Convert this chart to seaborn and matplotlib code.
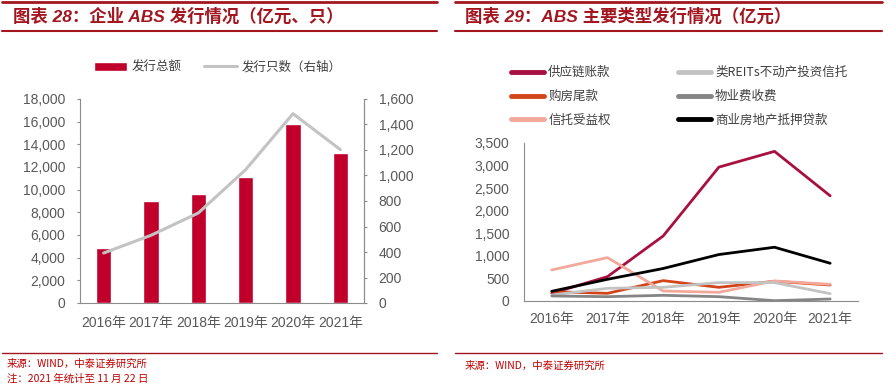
import numpy as np
import pandas as pd
import seaborn as sns
import matplotlib
matplotlib.use('Agg')
from matplotlib import pyplot as plt
from matplotlib.lines import Line2D
from matplotlib.ticker import FuncFormatter, FixedLocator

# --------------------------
# 数据
# --------------------------
years = ['2016年', '2017年', '2018年', '2019年', '2020年', '2021年']

# 图表 28：企业 ABS 发行情况
issue_amount = [4820, 9030, 9590, 11150, 15820, 13270]   # 发行总额（亿元）
issue_count = [392, 531, 706, 1046, 1485, 1203]          # 发行只数（右轴）

# 图表 29：ABS 主要类型发行情况（亿元）
supply_chain = [170, 540, 1440, 2965, 3315, 2330]        # 供应链账款
house_tail = [207, 170, 451, 303, 437, 355]              # 购房尾款
trust_benefit = [688, 962, 222, 192, 444, 370]           # 信托受益权
reits_like = [133, 281, 303, 407, 407, 163]              # 类REITs不动产投资信托
property_fee = [111, 96, 126, 96, 7, 44]                 # 物业费收费
cmbs = [215, 481, 720, 1029, 1191, 836]                  # 商业房地产抵押贷款

series_names = ['供应链账款', '购房尾款', '信托受益权',
                '类REITs不动产投资信托', '物业费收费', '商业房地产抵押贷款']
series_values = [supply_chain, house_tail, trust_benefit,
                 reits_like, property_fee, cmbs]
series_colors = ['#A8113F', '#D2451A', '#F2A99C', '#C3C3C3', '#858585', '#000000']

# --------------------------
# 样式
# --------------------------
sns.set_theme(style='white')
plt.rcParams['font.family'] = ['Liberation Sans', 'Noto Sans CJK SC', 'DejaVu Sans']
plt.rcParams['axes.unicode_minus'] = False

GRAY_TXT = '#595959'
GRAY_AX = '#8C8C8C'
TITLE_RED = '#A3161F'
W, H = 890, 391

fig = plt.figure(figsize=(W / 100, H / 100), dpi=100)
thousands = FuncFormatter(lambda v, p: f'{v:,.0f}')


def fx(px):
    return px / W


def fy(py):
    return 1 - py / H


def style_axis(ax):
    for s in ax.spines.values():
        s.set_color(GRAY_AX)
        s.set_linewidth(0.8)
    ax.tick_params(axis='both', colors=GRAY_AX, labelcolor=GRAY_TXT,
                   labelsize=10, length=2.5, width=0.8, direction='out')
    ax.tick_params(axis='y', pad=8)
    ax.tick_params(axis='x', which='major', length=0, pad=9)
    ax.tick_params(axis='x', which='minor', length=3, width=0.8, colors=GRAY_AX)
    ax.xaxis.set_minor_locator(FixedLocator(np.arange(-0.5, len(years), 1)))
    ax.set_xlabel('')
    ax.set_ylabel('')


# --------------------------
# 图表 28
# --------------------------
ax1 = fig.add_axes([fx(80), fy(303), fx(284), (303 - 99) / H])
df_bar = pd.DataFrame({'year': years, 'amount': issue_amount})
sns.barplot(data=df_bar, x='year', y='amount', color='#C0002B',
            width=0.32, saturation=1, ax=ax1, label='发行总额')
if ax1.get_legend() is not None:
    ax1.get_legend().remove()
ax1.set_xlim(-0.5, len(years) - 0.5)
ax1.set_ylim(0, 18000)
ax1.set_yticks(np.arange(0, 18001, 2000))
ax1.yaxis.set_major_formatter(thousands)
ax1.spines['top'].set_visible(False)
style_axis(ax1)

ax1r = ax1.twinx()
sns.lineplot(x=np.arange(len(years)), y=issue_count, color='#C3C3C3',
             linewidth=2.2, ax=ax1r, label='发行只数（右轴）')
ax1r.set_ylim(0, 1600)
ax1r.set_yticks(np.arange(0, 1601, 200))
ax1r.yaxis.set_major_formatter(thousands)
ax1r.spines['top'].set_visible(False)
style_axis(ax1r)
ax1r.spines['left'].set_visible(False)
ax1r.spines['bottom'].set_visible(False)
if ax1r.get_legend() is not None:
    ax1r.get_legend().remove()

h1, l1 = ax1.get_legend_handles_labels()
h2, l2 = ax1r.get_legend_handles_labels()
leg1 = ax1r.legend(h1 + h2, l1 + l2, ncol=2, loc='center left',
                   bbox_to_anchor=(fx(88), fy(67)), bbox_transform=fig.transFigure,
                   frameon=False, handlelength=2.6, handleheight=0.7,
                   handletextpad=0.4, columnspacing=1.8, borderpad=0,
                   prop={'family': ['Noto Sans CJK SC'], 'size': 9})
for t in leg1.get_texts():
    t.set_color('#404040')

# --------------------------
# 图表 29
# --------------------------
ax2 = fig.add_axes([fx(524), fy(301), fx(334), (301 - 143) / H])
df_line = pd.DataFrame({
    'pos': np.tile(np.arange(len(years)), len(series_names)),
    'type': np.repeat(series_names, len(years)),
    'value': np.concatenate(series_values),
})
sns.lineplot(data=df_line, x='pos', y='value', hue='type',
             hue_order=series_names, palette=series_colors,
             linewidth=2.0, ax=ax2)
ax2.set_xlim(-0.5, len(years) - 0.5)
ax2.set_xticks(np.arange(len(years)))
ax2.set_xticklabels(years)
ax2.set_ylim(0, 3500)
ax2.set_yticks(np.arange(0, 3501, 500))
ax2.yaxis.set_major_formatter(thousands)
ax2.spines['top'].set_visible(False)
ax2.spines['right'].set_visible(False)
style_axis(ax2)
ax2.tick_params(axis='x', which='major', pad=8)

h, l = ax2.get_legend_handles_labels()
for hd in h:
    hd.set_linewidth(3.5)
leg2 = ax2.legend(h, l, ncol=2, loc='upper left',
                  bbox_to_anchor=(fx(505), fy(60)), bbox_transform=fig.transFigure,
                  frameon=False, handlelength=2.6, handletextpad=0.35,
                  columnspacing=5.4, labelspacing=0.85, borderpad=0,
                  prop={'family': ['Noto Sans CJK SC'], 'size': 9})
for t in leg2.get_texts():
    t.set_color('#404040')

# --------------------------
# 标题、分隔线、注释
# --------------------------
for x0, x1 in [(2, 437), (455, 882)]:
    fig.add_artist(Line2D([fx(x0), fx(x1)], [fy(2), fy(2)], color=TITLE_RED, lw=2.0))
    fig.add_artist(Line2D([fx(x0), fx(x1)], [fy(31), fy(31)], color=TITLE_RED, lw=1.5))
    fig.add_artist(Line2D([fx(x0), fx(x1)], [fy(353), fy(353)], color=TITLE_RED, lw=1.0))

title_kw = dict(fontsize=12.5, fontweight='bold', fontstyle='italic', color=TITLE_RED,
                va='center', ha='left', family=['Liberation Sans', 'Noto Sans CJK SC'])
fig.text(fx(13), fy(16), '图表 28：企业 ABS 发行情况（亿元、只）', **title_kw)
fig.text(fx(465), fy(16), '图表 29：ABS 主要类型发行情况（亿元）', **title_kw)

foot_kw = dict(fontsize=7.5, color='#C00000', va='center', ha='left',
               family=['Noto Sans CJK SC'])
fig.text(fx(7), fy(364), '来源：WIND，中泰证券研究所', **foot_kw)
fig.text(fx(7), fy(379), '注：2021 年统计至 11 月 22 日', **foot_kw)
fig.text(fx(465), fy(366), '来源：WIND，中泰证券研究所', **foot_kw)

fig.savefig('out.png', dpi=100)
